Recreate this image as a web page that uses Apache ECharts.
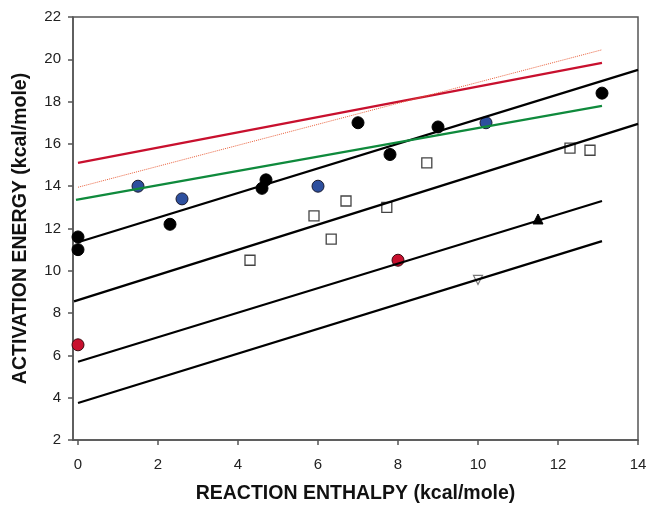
<!DOCTYPE html>
<html><head><meta charset="utf-8">
<script src="https://cdn.jsdelivr.net/npm/echarts@6/dist/echarts.min.js"></script>
<style>html,body{margin:0;padding:0;background:#fff}#c{width:647px;height:506px}</style>
</head><body><div id="c"></div>
<script>
// Data
const xTicks = [0, 2, 4, 6, 8, 10, 12, 14];
const yTicks = [2, 4, 6, 8, 10, 12, 14, 16, 18, 20, 22];
const blackCircles = [[0, 11.6], [0, 11.0], [2.3, 12.2], [4.6, 13.9], [4.7, 14.3], [7.0, 17.0], [7.8, 15.5], [9.0, 16.8], [13.1, 18.4]];
const blueCircles = [[1.5, 14.0], [2.6, 13.4], [6.0, 14.0], [10.2, 17.0]];
const redCircles = [[0, 6.5], [8.0, 10.5]];
const openSquares = [[4.3, 10.5], [5.9, 12.6], [6.7, 13.3], [6.33, 11.5], [7.72, 13.0], [8.72, 15.1], [12.3, 15.8], [12.8, 15.7]];
const triUp = [[11.5, 12.45]];
const triDown = [[10.0, 9.57]];
const blackLine1 = [[0, 11.35], [14, 19.5]];
const blackLine2 = [[-0.1, 8.55], [14, 16.95]];
const blackLine3 = [[0, 5.7], [13.1, 13.3]];
const blackLine4 = [[0, 3.75], [13.1, 11.4]];
const redLine = [[0, 15.1], [13.1, 19.83]];
const redDotted = [[0, 13.95], [13.1, 20.45]];
const greenLine = [[-0.05, 13.35], [13.1, 17.8]];

const chart = echarts.init(document.getElementById('c'), null, {renderer: 'canvas'});
const font = 'Liberation Sans, Arial, sans-serif';
function line(data, color, width, type) {
  return {type: 'line', data: data, symbol: 'none', z: 5, animation: false,
    lineStyle: {color: color, width: width, type: type || 'solid'}};
}
function scatter(data, symbol, size, fill, border, bw) {
  return {type: 'scatter', data: data, symbol: symbol, symbolSize: size, z: 4, animation: false,
    itemStyle: {color: fill, borderColor: border, borderWidth: bw, opacity: 1}};
}
chart.setOption({
  animation: false,
  grid: {left: 73, right: 9, top: 17, bottom: 66, outerBoundsMode: 'none', containLabel: false,
    show: true, borderColor: '#555', borderWidth: 1.5, backgroundColor: 'transparent'},
  xAxis: {
    type: 'value', min: -0.125, max: 14,
    name: 'REACTION ENTHALPY (kcal/mole)', nameLocation: 'middle', nameGap: 44,
    nameTextStyle: {fontFamily: font, fontWeight: 'bold', fontSize: 19.5, color: '#111'},
    axisLine: {show: true, onZero: false, lineStyle: {color: '#555', width: 1.5}},
    axisTick: {show: true, inside: false, length: 5, customValues: xTicks, lineStyle: {color: '#555', width: 1.5}},
    axisLabel: {customValues: xTicks, fontFamily: font, fontSize: 15, color: '#222', margin: 17, showMinLabel: true, showMaxLabel: true},
    splitLine: {show: false}
  },
  yAxis: {
    type: 'value', min: 2, max: 22, interval: 2,
    name: 'ACTIVATION ENERGY (kcal/mole)', nameLocation: 'middle', nameGap: 42, nameRotate: 90,
    nameTextStyle: {fontFamily: font, fontWeight: 'bold', fontSize: 19.5, color: '#111'},
    axisLine: {show: true, onZero: false, lineStyle: {color: '#555', width: 1.5}},
    axisTick: {show: true, inside: false, length: 5, lineStyle: {color: '#555', width: 1.5}},
    axisLabel: {fontFamily: font, fontSize: 15, color: '#222', margin: 12},
    splitLine: {show: false}
  },
  series: [
    scatter(blackCircles, 'circle', 12, '#000', '#000', 1),
    scatter(blueCircles, 'circle', 12, '#2d4f9e', '#1a1a2e', 1),
    scatter(redCircles, 'circle', 12, '#c8102e', '#3a0a10', 1),
    scatter(openSquares, 'rect', 10, '#fff', '#444', 1.3),
    scatter(triUp, 'triangle', 10, '#000', '#000', 1),
    scatter(triDown, 'path://M0,0 L10,0 L5,10 Z', 9, '#fff', '#777', 1.2),
    line(blackLine1, '#000', 2.3),
    line(blackLine2, '#000', 2.3),
    line(blackLine3, '#000', 2.3),
    line(blackLine4, '#000', 2.3),
    line(redLine, '#c8102e', 2.3),
    line(redDotted, '#e8603c', 1, 'dotted'),
    line(greenLine, '#0f8a3c', 2.3)
  ]
});
</script></body></html>
